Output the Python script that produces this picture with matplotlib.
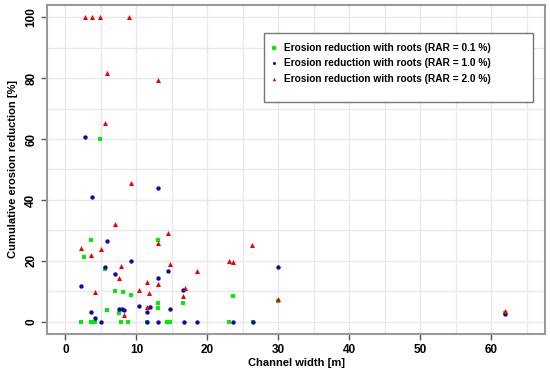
import matplotlib
matplotlib.use("Agg")
import matplotlib.pyplot as plt
from matplotlib.patches import Rectangle
import numpy as np

plt.rcParams['font.family'] = ['Liberation Sans', 'DejaVu Sans']
plt.rcParams['font.weight'] = 'bold'

# RAR = 0.1 %
green_x = [4.8, 3.6, 13.0, 2.6, 5.6, 7.0, 8.1, 9.3, 13.0, 16.5, 23.6, 5.8, 7.5, 13.0, 30.0, 62.0,
           2.25, 3.6, 4.1, 7.8, 8.8, 11.45, 14.3, 14.7, 23.0, 26.4]
green_y = [60.1, 26.7, 26.9, 21.3, 17.4, 10.0, 9.8, 8.9, 6.3, 6.3, 8.4, 4.0, 3.0, 4.4, 6.9, 2.8,
           0, 0, 0, 0, 0, 0, 0, 0, 0, 0]
# RAR = 1.0 %
blue_x = [2.7, 13.0, 3.7, 5.9, 5.6, 9.3, 7.0, 13.0, 14.5, 2.25, 16.5, 10.3, 11.9, 11.5, 14.8,
          7.5, 7.9, 8.2, 3.6, 4.1, 30.0, 62.0,
          5.0, 11.45, 13.05, 16.7, 18.5, 23.6, 26.4]
blue_y = [60.8, 44.0, 41.1, 26.4, 18.1, 20.0, 15.6, 14.3, 16.7, 11.9, 10.3, 5.2, 4.7, 3.3, 4.1,
          4.1, 4.1, 4.0, 3.2, 1.1, 18.1, 2.5,
          0, 0, 0, 0, 0, 0, 0]
# RAR = 2.0 %
red_x = [2.7, 3.75, 4.9, 8.9, 5.9, 13.05, 5.6, 9.3, 7.0, 14.5, 13.0, 2.25, 5.0, 26.3, 3.6, 23.0,
         23.6, 7.8, 14.8, 18.5, 7.5, 11.5, 13.0, 4.1, 10.4, 11.8, 16.8, 16.5, 11.5, 8.2, 30.0, 62.0]
red_y = [100, 100, 100, 100, 81.6, 79.4, 65.4, 45.5, 32.2, 29.2, 25.8, 24.2, 24.0, 25.1, 22.0, 20.0,
         19.6, 18.4, 18.9, 16.7, 14.5, 13.2, 12.5, 9.7, 10.6, 9.6, 11.0, 8.4, 4.7, 2.2, 7.4, 3.6]

labels = ["Erosion reduction with roots (RAR = 0.1 %)",
          "Erosion reduction with roots (RAR = 1.0 %)",
          "Erosion reduction with roots (RAR = 2.0 %)"]
x_ticks = [0, 10, 20, 30, 40, 50, 60]
y_ticks = [0, 20, 40, 60, 80, 100]

fig = plt.figure(figsize=(5.5, 3.74), dpi=100)
ax = fig.add_axes([0.0855, 0.107, 0.9055, 0.8796])

ax.set_xlim(-2.6, 67.6)
ax.set_ylim(-4, 104)

for gx in np.arange(0, 70, 5):
    ax.axvline(gx, color='#e8e8e8', lw=1.0, zorder=0)
for gy in np.arange(0, 110, 10):
    ax.axhline(gy, color='#e8e8e8', lw=1.0, zorder=0)

ax.scatter(green_x, green_y, marker='s', s=11, color='#00ee00', linewidths=0, label=labels[0], zorder=3)
ax.scatter(blue_x, blue_y, marker='o', s=10, color='#0a0aaa', linewidths=0, label=labels[1], zorder=4)
ax.scatter(red_x, red_y, marker='^', s=13, color='#ee0000', linewidths=0, label=labels[2], zorder=5)

ax.set_xticks(x_ticks)
ax.set_yticks(y_ticks)
ax.set_xticklabels([str(v) for v in x_ticks], fontsize=8.5, fontweight='bold')
ax.set_yticklabels([str(v) for v in y_ticks], fontsize=8.5, fontweight='bold', rotation=90, va='center')
ax.tick_params(axis='both', direction='out', length=4, width=1, color='#555555', pad=3)

for sp in ax.spines.values():
    sp.set_color('#999999')
    sp.set_linewidth(1.5)

ax.set_xlabel("Channel width [m]", fontsize=8, fontweight='bold', labelpad=2)
ax.set_ylabel("Cumulative erosion reduction [%]", fontsize=8, fontweight='bold', labelpad=5)

# legend frame: x 264..533 px, y 33..102 px (figure pixels), axes area x 47..545, y 5..334
def fx(px):
    return (px - 47) / 498
def fy(py):
    return (334 - py) / 329

frame = Rectangle((fx(264), fy(102)), fx(533) - fx(264), fy(33) - fy(102), transform=ax.transAxes,
                  facecolor='white', edgecolor='#777777', linewidth=1.0, zorder=6)
ax.add_patch(frame)

leg = ax.legend(loc='upper left', bbox_to_anchor=(fx(269), fy(42.5)),
                fontsize=7.3, frameon=False, markerscale=0.7, handletextpad=0.45,
                borderpad=0, labelspacing=0.55, handlelength=1.0, borderaxespad=0)
leg.set_zorder(7)
for t in leg.get_texts():
    t.set_fontweight('bold')

fig.savefig("out.png", dpi=100)
